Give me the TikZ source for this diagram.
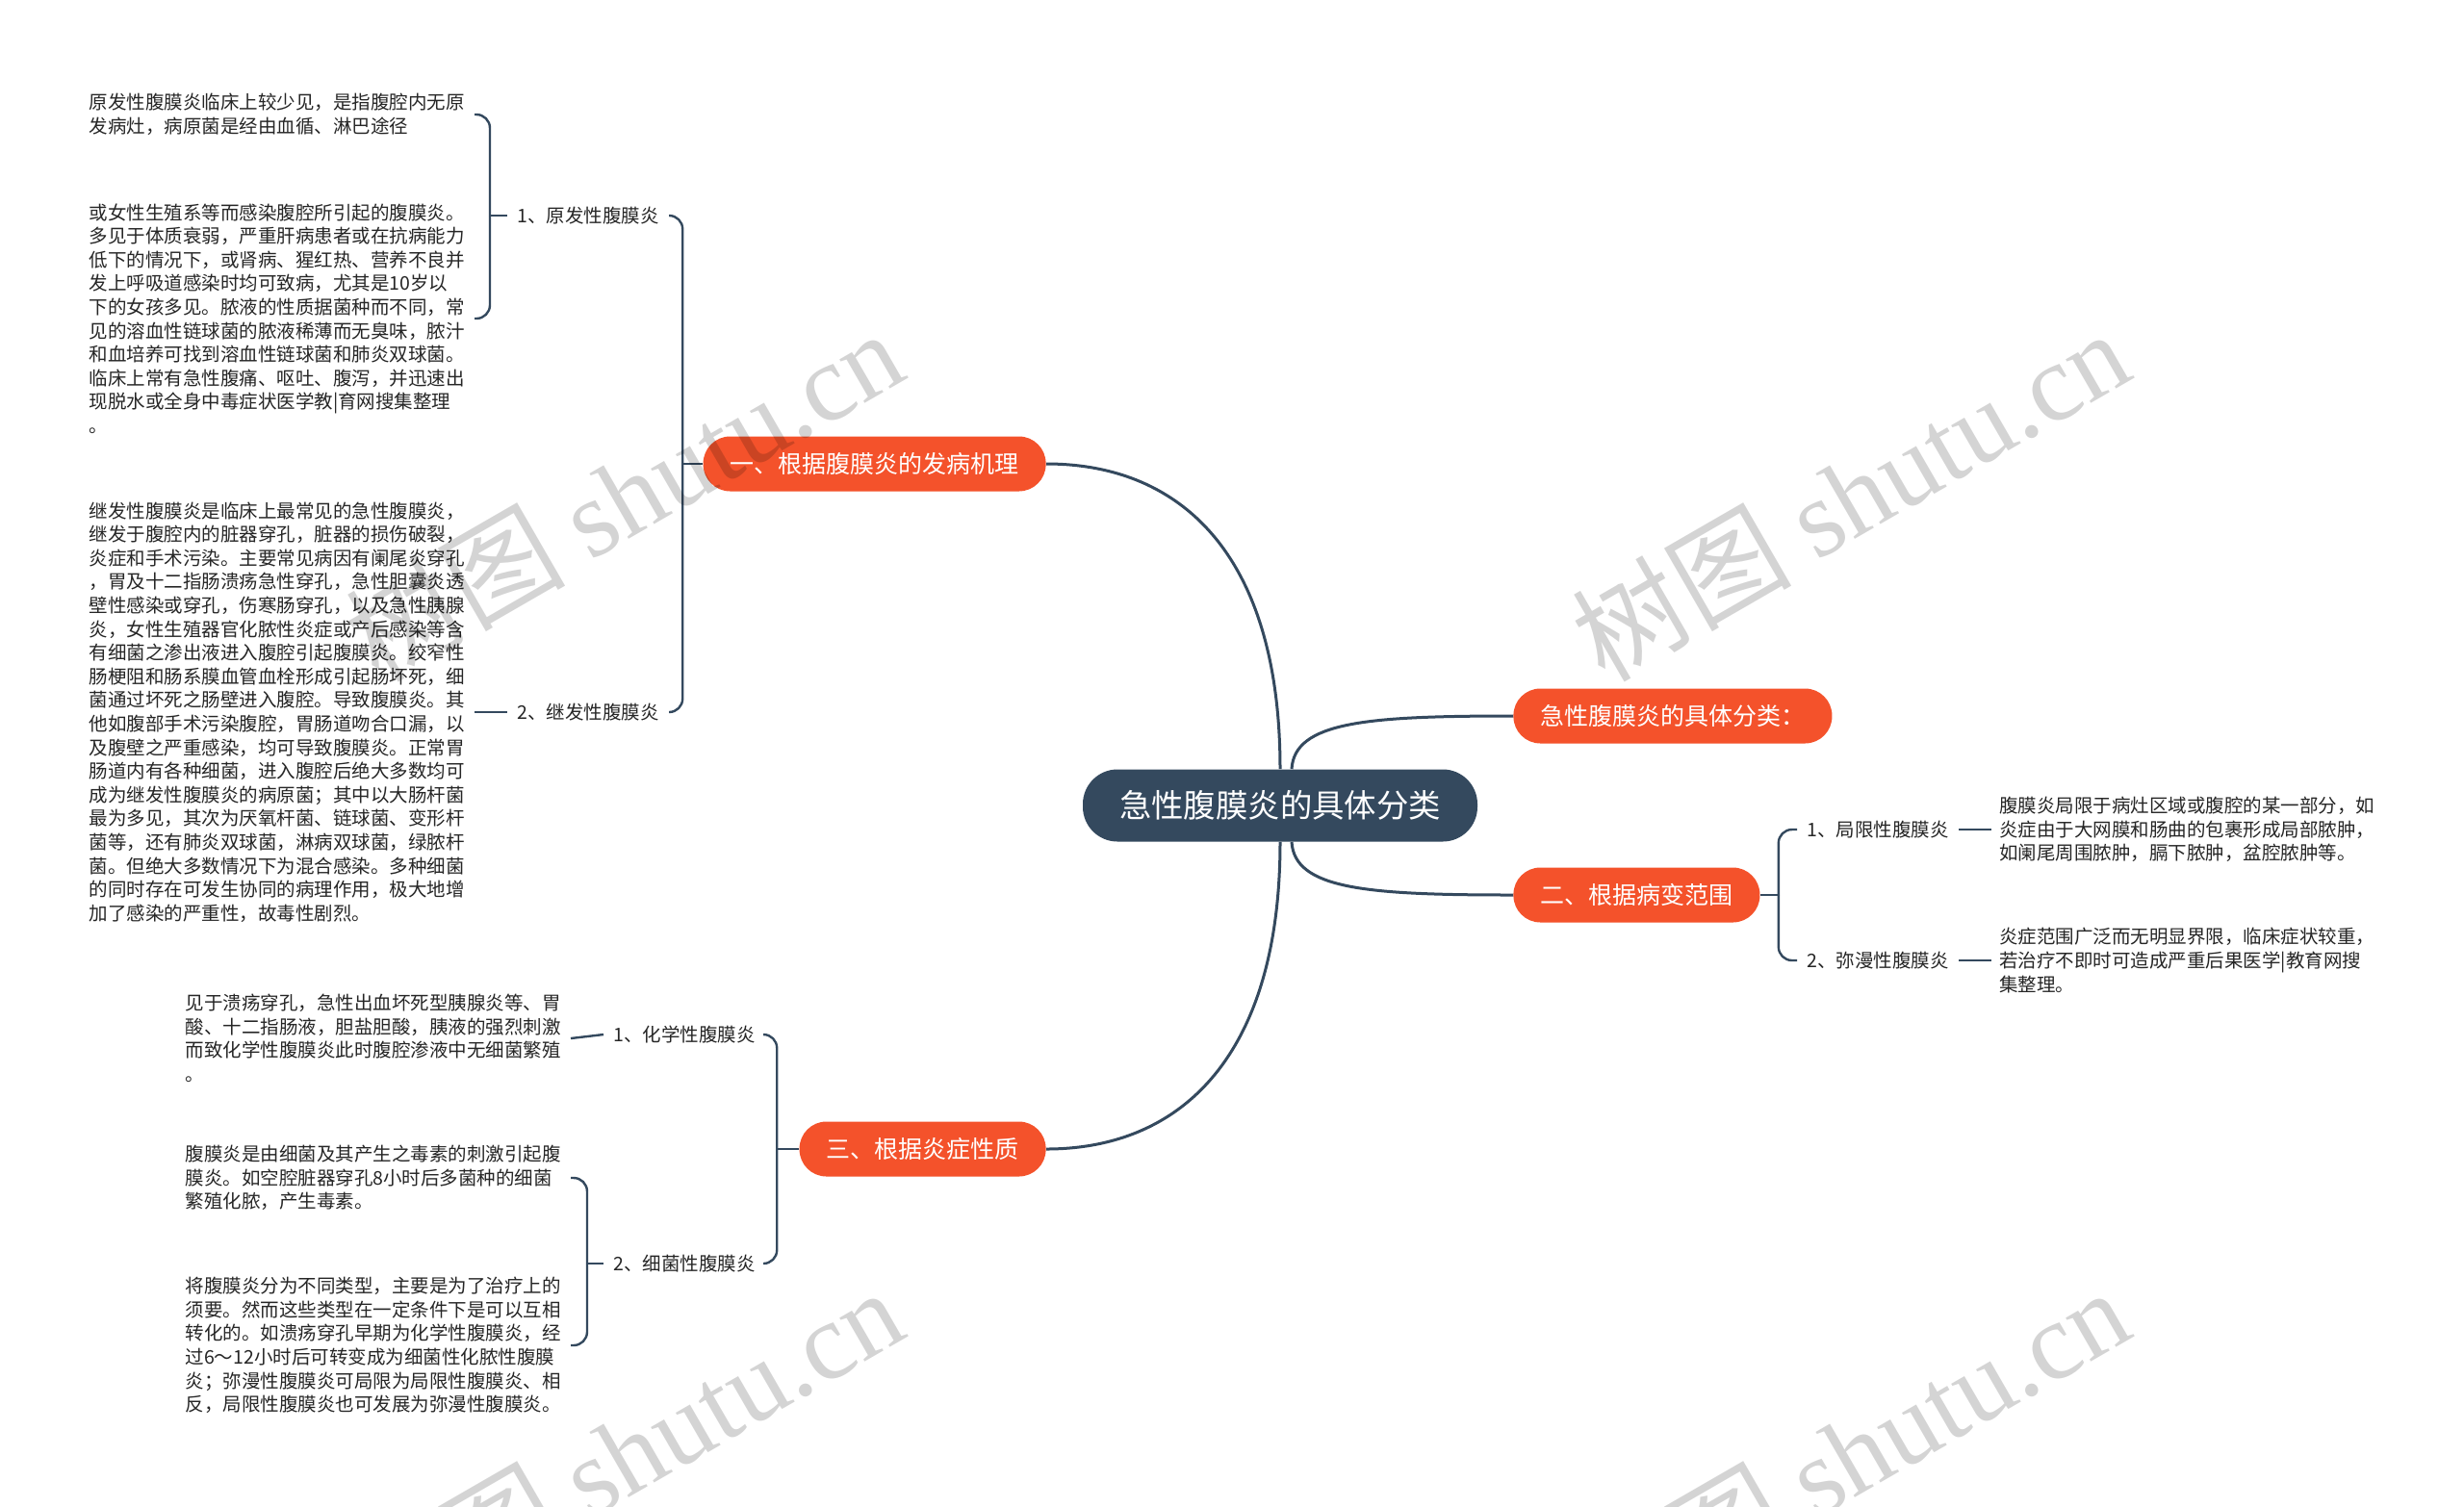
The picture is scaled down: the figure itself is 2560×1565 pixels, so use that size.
\documentclass[tikz,border=0pt]{standalone}
\usepackage{fontspec}
\setmainfont{Noto Sans CJK SC}
\newfontfamily\wmlatin{Liberation Serif}
\usepackage{tikz}

\definecolor{mapdark}{HTML}{34495E}
\definecolor{maporange}{HTML}{F4522B}

\begin{document}
\begin{tikzpicture}[x=0.5pt, y=-0.5pt,
    central/.style={fill=mapdark, text=white, rounded corners=18pt, minimum height=37.5pt,
                    inner xsep=19pt, font=\fontsize{16.7pt}{20pt}\selectfont},
    topic/.style={fill=maporange, text=white, rounded corners=14pt, minimum height=28.5pt,
                  inner xsep=14pt, font=\fontsize{12.5pt}{15pt}\selectfont},
    subtopic/.style={inner xsep=5pt, inner ysep=2pt, text=black!85,
                     font=\fontsize{9.75pt}{12pt}\selectfont},
    leaf/.style={align=left, text width=196pt, inner xsep=4pt, inner ysep=2pt, text=black!85,
                 font=\fontsize{9.75pt}{12.3pt}\selectfont},
    link/.style={draw=mapdark, line width=1.5pt},
    brace/.style={draw=mapdark, line width=1.2pt, rounded corners=7pt},
    wmark/.style={rotate=30, text=black, text opacity=0.17, font=\fontsize{57pt}{57pt}\selectfont}
  ]
  \path[fill=white, use as bounding box] (0,0) rectangle (2560,1565);

  % centre and main topics
  \node[central] (root) at (1330,837) {急性腹膜炎的具体分类};
  \node[topic, anchor=east] (mech)   at (1087,482)  {一、根据腹膜炎的发病机理};
  \node[topic, anchor=west] (kinds)  at (1572,744)  {急性腹膜炎的具体分类：};
  \node[topic, anchor=west] (range)  at (1572,930)  {二、根据病变范围};
  \node[topic, anchor=east] (nature) at (1087,1194) {三、根据炎症性质};

  \draw[link] (root.north) .. controls (1330,580) and (1230,482) .. (mech.east);
  \draw[link] (root.south) .. controls (1330,1094) and (1230,1194) .. (nature.east);
  \draw[link] ([xshift=6pt]root.north) .. controls (1345,750) and (1420,744) .. (kinds.west);
  \draw[link] ([xshift=6pt]root.south) .. controls (1345,924) and (1420,930) .. (range.west);

  % subtopics
  \node[subtopic, anchor=west] (prim)  at (527,224)  {1、原发性腹膜炎};
  \node[subtopic, anchor=west] (sec)   at (527,740)  {2、继发性腹膜炎};
  \node[subtopic, anchor=west] (chem)  at (627,1075) {1、化学性腹膜炎};
  \node[subtopic, anchor=west] (bact)  at (627,1313) {2、细菌性腹膜炎};
  \node[subtopic, anchor=west] (local) at (1867,862) {1、局限性腹膜炎};
  \node[subtopic, anchor=west] (diff)  at (1867,998) {2、弥漫性腹膜炎};

  \coordinate (mechS)   at ([xshift=-10.5pt]mech.west);
  \coordinate (natureS) at ([xshift=-11.5pt]nature.west);
  \coordinate (rangeS)  at ([xshift=9.5pt]range.east);
  \draw[link, line width=1.2pt] (mech.west) -- (mechS);
  \draw[brace] (mechS) |- (prim.east);
  \draw[brace] (mechS) |- (sec.east);
  \draw[link, line width=1.2pt] (nature.west) -- (natureS);
  \draw[brace] (natureS) |- (chem.east);
  \draw[brace] (natureS) |- (bact.east);
  \draw[link, line width=1.2pt] (range.east) -- (rangeS);
  \draw[brace] (rangeS) |- (local.west);
  \draw[brace] (rangeS) |- (diff.west);

  % leaf texts
  \node[leaf, anchor=east] (primA) at (493,119) {原发性腹膜炎临床上较少见，是指腹腔内无原\\发病灶，病原菌是经由血循、淋巴途径};
  \node[leaf, anchor=east] (primB) at (493,331) {或女性生殖系等而感染腹腔所引起的腹膜炎。\\多见于体质衰弱，严重肝病患者或在抗病能力\\低下的情况下，或肾病、猩红热、营养不良并\\发上呼吸道感染时均可致病，尤其是10岁以\\下的女孩多见。脓液的性质据菌种而不同，常\\见的溶血性链球菌的脓液稀薄而无臭味，脓汁\\和血培养可找到溶血性链球菌和肺炎双球菌。\\临床上常有急性腹痛、呕吐、腹泻，并迅速出\\现脱水或全身中毒症状医学教|育网搜集整理\\。};
  \node[leaf, anchor=east] (secA) at (493,740) {继发性腹膜炎是临床上最常见的急性腹膜炎，\\继发于腹腔内的脏器穿孔，脏器的损伤破裂，\\炎症和手术污染。主要常见病因有阑尾炎穿孔\\，胃及十二指肠溃疡急性穿孔，急性胆囊炎透\\壁性感染或穿孔，伤寒肠穿孔，以及急性胰腺\\炎，女性生殖器官化脓性炎症或产后感染等含\\有细菌之渗出液进入腹腔引起腹膜炎。绞窄性\\肠梗阻和肠系膜血管血栓形成引起肠坏死，细\\菌通过坏死之肠壁进入腹腔。导致腹膜炎。其\\他如腹部手术污染腹腔，胃肠道吻合口漏，以\\及腹壁之严重感染，均可导致腹膜炎。正常胃\\肠道内有各种细菌，进入腹腔后绝大多数均可\\成为继发性腹膜炎的病原菌；其中以大肠杆菌\\最为多见，其次为厌氧杆菌、链球菌、变形杆\\菌等，还有肺炎双球菌，淋病双球菌，绿脓杆\\菌。但绝大多数情况下为混合感染。多种细菌\\的同时存在可发生协同的病理作用，极大地增\\加了感染的严重性，故毒性剧烈。};
  \node[leaf, anchor=east] (chemA) at (593,1079) {见于溃疡穿孔，急性出血坏死型胰腺炎等、胃\\酸、十二指肠液，胆盐胆酸，胰液的强烈刺激\\而致化学性腹膜炎此时腹腔渗液中无细菌繁殖\\。};
  \node[leaf, anchor=east] (bactA) at (593,1224) {腹膜炎是由细菌及其产生之毒素的刺激引起腹\\膜炎。如空腔脏器穿孔8小时后多菌种的细菌\\繁殖化脓，产生毒素。};
  \node[leaf, anchor=east] (bactB) at (593,1398) {将腹膜炎分为不同类型，主要是为了治疗上的\\须要。然而这些类型在一定条件下是可以互相\\转化的。如溃疡穿孔早期为化学性腹膜炎，经\\过6～12小时后可转变成为细菌性化脓性腹膜\\炎；弥漫性腹膜炎可局限为局限性腹膜炎、相\\反，局限性腹膜炎也可发展为弥漫性腹膜炎。};
  \node[leaf, anchor=west] (localA) at (2069,862) {腹膜炎局限于病灶区域或腹腔的某一部分，如\\炎症由于大网膜和肠曲的包裹形成局部脓肿，\\如阑尾周围脓肿，膈下脓肿，盆腔脓肿等。};
  \node[leaf, anchor=west] (diffA) at (2069,998) {炎症范围广泛而无明显界限，临床症状较重，\\若治疗不即时可造成严重后果医学|教育网搜\\集整理。};

  \coordinate (primS) at ([xshift=-9pt]prim.west);
  \coordinate (bactS) at ([xshift=-8.5pt]bact.west);
  \draw[link, line width=1.2pt] (prim.west) -- (primS);
  \draw[brace] (primS) |- (primA.east);
  \draw[brace] (primS) |- (primB.east);
  \draw[link, line width=1.2pt] (bact.west) -- (bactS);
  \draw[brace] (bactS) |- (bactA.east);
  \draw[brace] (bactS) |- (bactB.east);
  \draw[link, line width=1.2pt] (secA.east) -- (sec.west);
  \draw[link, line width=1.2pt] (chemA.east) -- (chem.west);
  \draw[link, line width=1.2pt] (local.east) -- (localA.west);
  \draw[link, line width=1.2pt] (diff.east) -- (diffA.west);

  % watermarks
  \node[wmark] (wm1) at (648,514)  {树图 {\wmlatin shutu.cn}};
  \node[wmark] (wm2) at (1922,514) {树图 {\wmlatin shutu.cn}};
  \node[wmark] (wm3) at (648,1510) {树图 {\wmlatin shutu.cn}};
  \node[wmark] (wm4) at (1922,1510) {树图 {\wmlatin shutu.cn}};
\end{tikzpicture}
\end{document}
